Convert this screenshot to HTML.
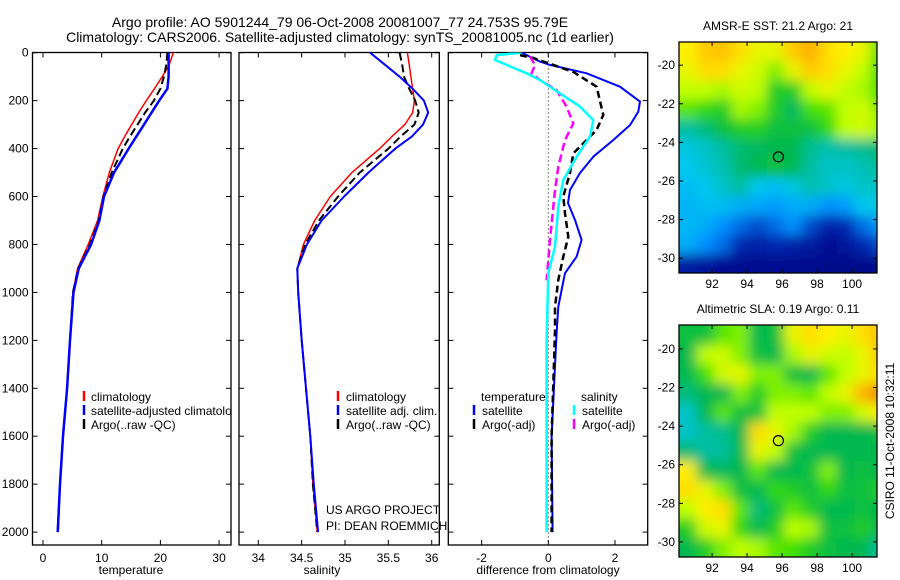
<!DOCTYPE html>
<html><head><meta charset="utf-8"><style>
html,body{margin:0;padding:0;background:#fff;}
svg{display:block;font-family:"Liberation Sans",sans-serif;}
</style></head><body>
<svg id="fig" width="900" height="580" viewBox="0 0 900 580" xmlns="http://www.w3.org/2000/svg">
<defs>
<clipPath id="c1"><rect x="32.5" y="52.5" width="198.5" height="492.5"/></clipPath>
<clipPath id="c2"><rect x="239" y="52.5" width="200.3" height="492.5"/></clipPath>
<clipPath id="c3"><rect x="448.3" y="52.5" width="199.4" height="492.5"/></clipPath>
<clipPath id="cm1"><rect x="679" y="42" width="198" height="231"/></clipPath>
<clipPath id="cm2"><rect x="679" y="325" width="198" height="232"/></clipPath>
<filter id="blur" filterUnits="userSpaceOnUse" x="640" y="0" width="260" height="580"><feGaussianBlur stdDeviation="6"/></filter>
</defs>
<text x="340" y="27" font-size="14" text-anchor="middle">Argo profile: AO 5901244_79 06-Oct-2008 20081007_77 24.753S 95.79E</text>
<text x="340" y="42" font-size="14" text-anchor="middle">Climatology: CARS2006. Satellite-adjusted climatology: synTS_20081005.nc (1d earlier)</text>
<g id="root"></g>
</svg>
<script>
// ---------- data ----------
const depths = [0,50,100,150,200,250,300,350,400,500,600,700,800,900,1000,1200,1400,1600,1800,2000];
const tempClim = [22.2,21.5,20.3,19.0,17.6,16.3,15.1,13.9,12.8,11.3,10.2,9.3,7.7,5.9,5.1,4.6,4.1,3.4,2.9,2.6];
const tempSat  = [21.4,21.4,21.4,21.2,19.8,18.5,17.2,15.9,14.6,12.1,10.4,9.6,8.2,6.1,5.2,4.6,4.1,3.4,2.9,2.5];
const tempArgo = [21.2,21.0,20.6,20.0,18.9,17.4,16.1,14.8,13.6,11.7,10.3,9.5,8.0,6.0,5.1,4.6,4.1,3.4,2.9,2.5];
const salClim  = [35.72,35.74,35.76,35.78,35.80,35.78,35.69,35.54,35.40,35.08,34.83,34.65,34.52,34.45,34.46,34.50,34.55,34.60,34.63,34.68];
const salSat   = [35.29,35.46,35.63,35.78,35.91,35.96,35.90,35.77,35.58,35.27,34.99,34.73,34.56,34.45,34.46,34.50,34.55,34.60,34.64,34.69];
const salArgo  = [35.63,35.66,35.68,35.74,35.81,35.85,35.80,35.64,35.50,35.17,34.92,34.70,34.54,34.45,34.46,34.50,34.55,34.60,34.63,34.68];
const dTsatDepth = [0,37,51,86,142,204,246,302,364,434,502,573,627,698,781,851,920,990,1060,1170,1600,2000];
const dTsat      = [-0.8,-0.25,0.05,1.15,2.15,2.75,2.7,2.45,1.95,1.35,0.95,0.65,0.59,0.8,1.0,0.85,0.5,0.4,0.3,0.25,0.1,0.13];
const dTargoDepth = [10,22,80,142,260,322,364,420,502,600,670,768,851,948,1060,1160,1600,2000];
const dTargo      = [-0.85,-0.45,0.75,1.45,1.65,1.45,1.15,0.75,0.65,0.45,0.5,0.6,0.45,0.3,0.2,0.2,0.1,0.1];
const dSsatDepth = [0,10,30,51,86,114,170,225,281,350,434,531,642,809,920,1200,2000];
const dSsat      = [-0.8,-1.55,-1.6,-1.25,-0.65,-0.25,0.35,0.95,1.35,1.25,0.85,0.45,0.3,0.2,0.0,-0.05,-0.05];
const dSargoDepth = [16,51,86,114,156,225,295,364,476,573,781,950];
const dSargo      = [-0.55,-0.4,-0.5,-0.25,0.25,0.55,0.75,0.5,0.3,0.2,0.05,-0.05];
const depthTicks = [0,200,400,600,800,1000,1200,1400,1600,1800,2000];
const tempTicks = [0,10,20,30];
const salTicks = [34,34.5,35,35.5,36];
const diffTicks = [-2,0,2];
const lonTicks = [92,94,96,98,100];
const latTicks = [-20,-22,-24,-26,-28,-30];
const sstGrid = [
[0.88,0.92,0.93,0.90,0.85,0.85,0.92,0.95,0.90,0.88,0.85,0.70],
[0.85,0.90,0.90,0.85,0.82,0.75,0.85,0.92,0.90,0.85,0.80,0.68],
[0.80,0.80,0.78,0.82,0.80,0.65,0.65,0.80,0.85,0.80,0.78,0.70],
[0.72,0.68,0.65,0.78,0.75,0.65,0.58,0.70,0.72,0.80,0.82,0.75],
[0.50,0.55,0.62,0.65,0.66,0.62,0.62,0.62,0.68,0.80,0.82,0.78],
[0.42,0.45,0.50,0.56,0.58,0.60,0.60,0.52,0.48,0.50,0.52,0.55],
[0.40,0.44,0.48,0.56,0.60,0.62,0.60,0.50,0.45,0.45,0.47,0.52],
[0.38,0.40,0.45,0.50,0.40,0.38,0.42,0.48,0.45,0.42,0.45,0.45],
[0.36,0.38,0.38,0.35,0.34,0.32,0.35,0.35,0.30,0.32,0.40,0.42],
[0.37,0.35,0.30,0.25,0.20,0.25,0.30,0.20,0.12,0.15,0.25,0.32],
[0.35,0.30,0.25,0.15,0.12,0.15,0.12,0.10,0.06,0.08,0.15,0.20],
[0.10,0.08,0.06,0.05,0.05,0.05,0.05,0.04,0.03,0.03,0.03,0.03]];
const slaGrid = [
[0.62,0.62,0.72,0.75,0.60,0.62,0.85,0.90,0.88,0.85,0.90,0.93],
[0.60,0.80,0.82,0.75,0.62,0.60,0.78,0.85,0.82,0.80,0.85,0.92],
[0.60,0.70,0.82,0.85,0.75,0.75,0.62,0.60,0.72,0.80,0.85,0.90],
[0.55,0.60,0.60,0.75,0.65,0.75,0.75,0.72,0.80,0.85,0.95,0.98],
[0.45,0.60,0.72,0.62,0.62,0.80,0.80,0.80,0.75,0.75,0.82,0.88],
[0.45,0.50,0.52,0.60,0.90,0.85,0.78,0.65,0.60,0.60,0.60,0.62],
[0.55,0.50,0.50,0.60,0.85,0.80,0.62,0.60,0.60,0.60,0.60,0.60],
[0.88,0.60,0.58,0.60,0.72,0.60,0.60,0.62,0.75,0.60,0.62,0.60],
[0.90,0.85,0.75,0.62,0.60,0.68,0.65,0.62,0.68,0.62,0.62,0.65],
[0.80,0.88,0.90,0.72,0.55,0.62,0.72,0.65,0.60,0.60,0.62,0.60],
[0.65,0.82,0.85,0.68,0.60,0.65,0.80,0.78,0.62,0.62,0.65,0.60],
[0.60,0.65,0.75,0.80,0.78,0.72,0.70,0.65,0.62,0.60,0.60,0.50]];
const argoLon = 95.79, argoLat = -24.75;

// ---------- helpers ----------
const NS = "http://www.w3.org/2000/svg";
const root = document.getElementById('root');
function el(tag, attrs, parent){const e=document.createElementNS(NS,tag);for(const k in attrs)e.setAttribute(k,attrs[k]);(parent||root).appendChild(e);return e;}
function txt(x,y,s,size,anchor,parent){const t=el('text',{x:x,y:y,'font-size':size,'text-anchor':anchor||'start'},parent);t.textContent=s;return t;}
const yD = d => 52.7 + d*0.2397;
const xT = t => 43 + t*5.87;
const xS = s => 258.3 + (s-34)*86.7;
const xDf = v => 548.3 + v*33.33;
const xLon = lo => 679 + (lo-90.11)*17.5;
const yLat1 = la => 42 + (-18.8-la)*19.3;
const yLat2 = la => 325 + (-18.76-la)*19.3;

function frame(x0,y0,x1,y1,name){
  const r=el('rect',{x:x0,y:y0,width:x1-x0,height:y1-y0,fill:'none',stroke:'#000','stroke-width':1.3});
  
  
}
function line(xs,ys,xf,yf,style,clip,name){
  const pts=xs.map((v,i)=>xf(v).toFixed(1)+','+yf(ys[i]).toFixed(1)).join(' ');
  const p=el('polyline',Object.assign({points:pts,fill:'none','clip-path':'url(#'+clip+')','stroke-linejoin':'round'},style));
  
  
}
function depthTicksFor(x0,x1,labels){
  depthTicks.forEach(d=>{
    const y=yD(d);
    el('line',{x1:x0,y1:y,x2:x0+5,y2:y,stroke:'#000'});
    el('line',{x1:x1,y1:y,x2:x1-5,y2:y,stroke:'#000'});
    if(labels){const t=txt(x0-4,y+4,String(d),12,'end');
      
      }
  });
}
function xTicksFor(ticks,xf,y0,y1,fmt){
  ticks.forEach(v=>{
    const x=xf(v);
    el('line',{x1:x,y1:y1,x2:x,y2:y1-5,stroke:'#000'});
    el('line',{x1:x,y1:y0,x2:x,y2:y0+5,stroke:'#000'});
    const t=txt(x,y1+17,fmt?fmt(v):String(v),12,'middle');
    
    
  });
}
function legendMark(x,y,color,label,name){
  el('line',{x1:x,y1:y-10,x2:x,y2:y,stroke:color,'stroke-width':2.5});
  const t=txt(x+8,y,label,12,'start');
  
  
}

// ---------- panel 1: temperature ----------
frame(32.5,52.5,231,545,'temperature-axes');
depthTicksFor(32.5,231,true);
xTicksFor(tempTicks,xT,52.5,545);
line(tempClim,depths,xT,yD,{stroke:'#ff0000','stroke-width':1.5},'c1','temp-climatology-line');
line(tempArgo,depths,xT,yD,{stroke:'#000','stroke-width':2,'stroke-dasharray':'8,4'},'c1','temp-argo-line');
line(tempSat,depths,xT,yD,{stroke:'#0000ff','stroke-width':2.5},'c1','temp-satellite-line');
{const t=txt(131,574,'temperature',12,'middle');}
{const g=el('g',{'clip-path':'url(#c1)'});
 el('line',{x1:84,y1:391,x2:84,y2:401,stroke:'#f00','stroke-width':2.5},g);
 el('line',{x1:84,y1:405,x2:84,y2:415,stroke:'#00f','stroke-width':2.5},g);
 el('line',{x1:84,y1:419,x2:84,y2:429,stroke:'#000','stroke-width':2.5},g);
 const a=txt(91,401,'climatology',12,'start',g);
 const b=txt(91,415,'satellite-adjusted climatology',12,'start',g);
 const c=txt(91,429,'Argo(..raw -QC)',12,'start',g);}

// ---------- panel 2: salinity ----------
frame(239,52.5,439.3,545,'salinity-axes');
depthTicksFor(239,439.3,false);
xTicksFor(salTicks,xS,52.5,545);
line(salClim,depths,xS,yD,{stroke:'#ff0000','stroke-width':1.5},'c2','sal-climatology-line');
line(salArgo,depths,xS,yD,{stroke:'#000','stroke-width':2,'stroke-dasharray':'8,4'},'c2','sal-argo-line');
line(salSat,depths,xS,yD,{stroke:'#0000ff','stroke-width':2},'c2','sal-satellite-line');
{const t=txt(322,574,'salinity',12,'middle');}
legendMark(338,401,'#f00','climatology','legend-sal-climatology');
legendMark(338,415,'#00f','satellite adj. clim.','legend-sal-satellite');
legendMark(338,429,'#000','Argo(..raw -QC)','legend-sal-argo');
{const t=txt(326,514,'US ARGO PROJECT',12,'start');
 const u=txt(326,530,'PI: DEAN ROEMMICH',12,'start');}

// ---------- panel 3: differences ----------
frame(448.3,52.5,647.7,545,'difference-axes');
depthTicksFor(448.3,647.7,false);
xTicksFor(diffTicks,xDf,52.5,545);
{const z=el('line',{x1:xDf(0),y1:52.5,x2:xDf(0),y2:545,stroke:'#000','stroke-width':1,'stroke-dasharray':'1,3'});}
line(dTsat,dTsatDepth,xDf,yD,{stroke:'#0000ff','stroke-width':2},'c3','diff-temp-satellite-line');
line(dTargo,dTargoDepth,xDf,yD,{stroke:'#000','stroke-width':2.5,'stroke-dasharray':'7,4'},'c3','diff-temp-argo-line');
line(dSargo,dSargoDepth,xDf,yD,{stroke:'#ff00ff','stroke-width':2.5,'stroke-dasharray':'8,4'},'c3','diff-sal-argo-line');
line(dSsat,dSsatDepth,xDf,yD,{stroke:'#00ffff','stroke-width':2.5},'c3','diff-sal-satellite-line');
{const t=txt(548,574,'difference from climatology',12,'middle');}
{const a=txt(481,401,'temperature',12,'start');
 const b=txt(581,401,'salinity',12,'start');}
legendMark(474,415,'#00f','satellite','legend-diff-temp-satellite');
legendMark(474,429,'#000','Argo(-adj)','legend-diff-temp-argo');
legendMark(574,415,'#0ff','satellite','legend-diff-sal-satellite');
legendMark(574,429,'#f0f','Argo(-adj)','legend-diff-sal-argo');

// ---------- maps ----------
const cmStops=[[0,[0,0,128]],[0.15,[0,40,176]],[0.3,[0,144,255]],[0.4,[0,200,240]],[0.5,[0,190,160]],[0.6,[0,184,80]],[0.7,[64,224,0]],[0.8,[192,255,0]],[0.88,[255,240,0]],[0.95,[255,176,0]],[1,[224,112,0]]];
function cmap(v){
  for(let i=1;i<cmStops.length;i++){if(v<=cmStops[i][0]){const a=cmStops[i-1],b=cmStops[i];const f=(v-a[0])/(b[0]-a[0]);
    const c=a[1].map((x,k)=>Math.round(x+(b[1][k]-x)*f));return 'rgb('+c.join(',')+')';}}
  return 'rgb(224,112,0)';
}
function drawMap(grid,yLat,top,bottom,clip,name,titleStr,titleY){
  const g=el('g',{'clip-path':'url(#'+clip+')'});
  
  
  const inner=el('g',{filter:'url(#blur)'},g);
  const lat0=-18.8, lon0=90.11;
  const nr=grid.length;
  grid.forEach((row,r)=>row.forEach((v,c)=>{
    let x=xLon(lon0+c), y=yLat(lat0-r);
    let w=xLon(lon0+c+1)-x+1, h=yLat(lat0-r-1)-y+1;
    // extend edge cells outward so the blur does not fade at borders
    if(c===0){x-=25;w+=25;}
    if(c===row.length-1){w+=25;}
    if(r===0){y-=25;h+=25;}
    if(r===nr-1){h+=25;}
    const cell=el('rect',{x:x,y:y,width:w,height:h,fill:cmap(v)},inner);
    
    
  }));
  frame(679,top,877,bottom,name+'-frame');
  lonTicks.forEach(lo=>{const x=xLon(lo);
    el('line',{x1:x,y1:top,x2:x,y2:top+4,stroke:'#000'});el('line',{x1:x,y1:bottom,x2:x,y2:bottom-4,stroke:'#000'});
    const t=txt(x,bottom+15,String(lo),12,'middle');});
  latTicks.forEach(la=>{const y=yLat(la);
    el('line',{x1:679,y1:y,x2:683,y2:y,stroke:'#000'});el('line',{x1:877,y1:y,x2:873,y2:y,stroke:'#000'});
    const t=txt(675,y+4,String(la),12,'end');});
  const m=el('circle',{cx:xLon(argoLon),cy:yLat(argoLat),r:5,fill:'none',stroke:'#000','stroke-width':1.2});
  
  
  const t=txt(778,titleY,titleStr,12,'middle');
}
drawMap(sstGrid,yLat1,42,273,'cm1','sst-map','AMSR-E SST: 21.2 Argo: 21',30);
drawMap(slaGrid,yLat2,325,557,'cm2','sla-map','Altimetric SLA: 0.19 Argo: 0.11',313);
{const t=txt(0,0,'CSIRO 11-Oct-2008 10:32:11',12,'middle');
 t.setAttribute('transform','translate(894,441) rotate(-90)');
 
 }
</script>
</body></html>
